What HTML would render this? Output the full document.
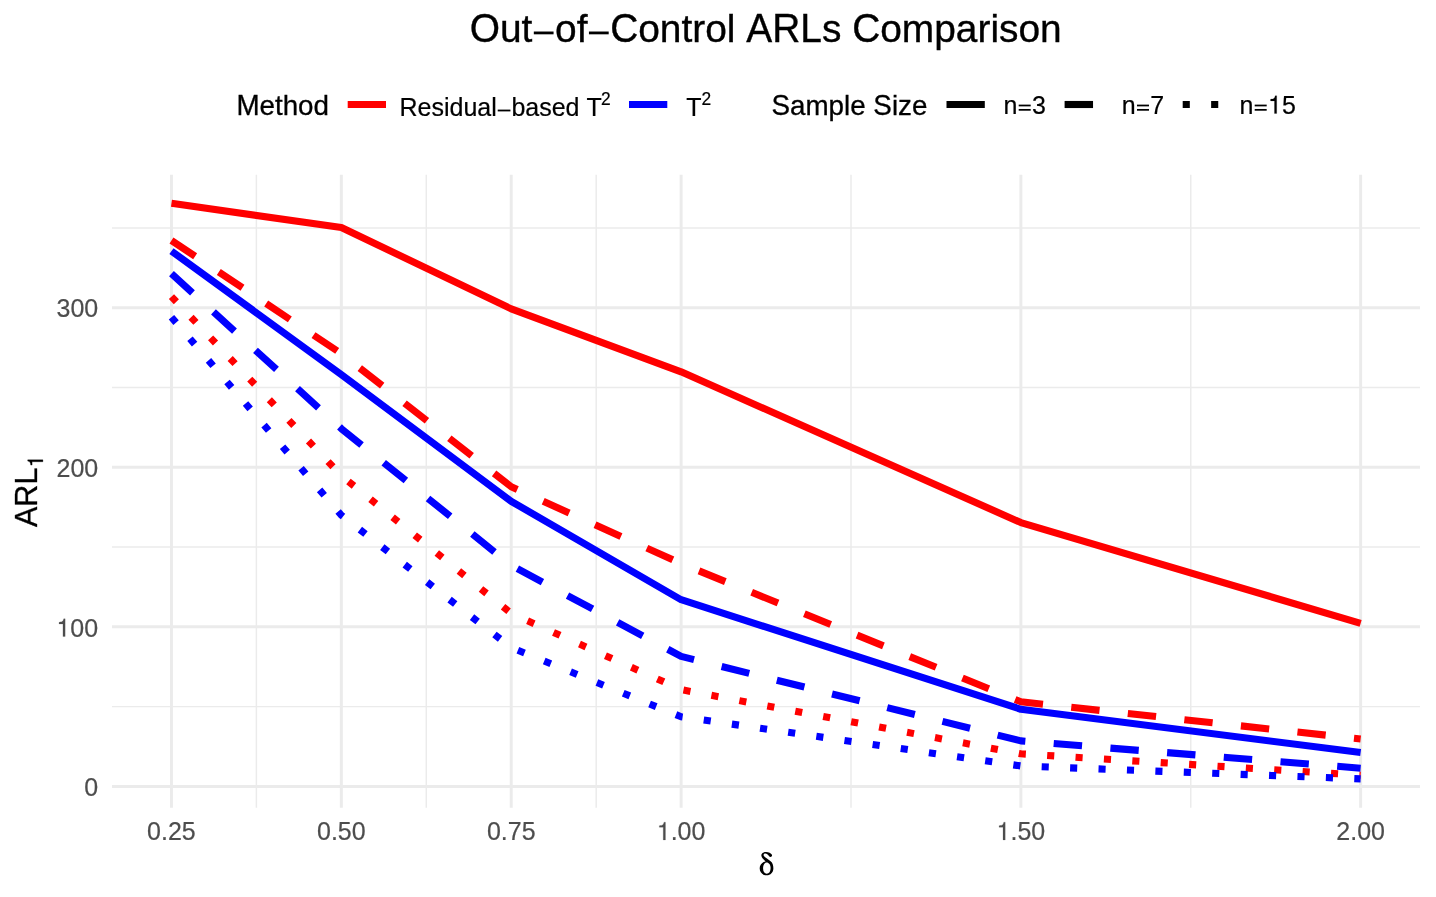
<!DOCTYPE html>
<html><head><meta charset="utf-8"><title>Out-of-Control ARLs Comparison</title>
<style>html,body{margin:0;padding:0;background:#fff;}svg{display:block;will-change:transform;}text{font-family:"Liberation Sans",sans-serif;font-kerning:none;}</style></head><body>
<svg width="1436" height="897" viewBox="0 0 1436 897">
<rect width="1436" height="897" fill="#FFFFFF"/>
<g stroke="#EBEBEB" stroke-width="1.48" fill="none">
<line x1="112.0" x2="1420.0" y1="706.62" y2="706.62"/>
<line x1="112.0" x2="1420.0" y1="547.08" y2="547.08"/>
<line x1="112.0" x2="1420.0" y1="387.52" y2="387.52"/>
<line x1="112.0" x2="1420.0" y1="227.98" y2="227.98"/>
<line y1="174.8" y2="807.7" x1="256.40" x2="256.40"/>
<line y1="174.8" y2="807.7" x1="426.28" x2="426.28"/>
<line y1="174.8" y2="807.7" x1="596.17" x2="596.17"/>
<line y1="174.8" y2="807.7" x1="850.99" x2="850.99"/>
<line y1="174.8" y2="807.7" x1="1190.75" x2="1190.75"/>
</g>
<g stroke="#EBEBEB" stroke-width="2.96" fill="none">
<line x1="112.0" x2="1420.0" y1="786.40" y2="786.40"/>
<line x1="112.0" x2="1420.0" y1="626.85" y2="626.85"/>
<line x1="112.0" x2="1420.0" y1="467.30" y2="467.30"/>
<line x1="112.0" x2="1420.0" y1="307.75" y2="307.75"/>
<line y1="174.8" y2="807.7" x1="171.46" x2="171.46"/>
<line y1="174.8" y2="807.7" x1="341.34" x2="341.34"/>
<line y1="174.8" y2="807.7" x1="511.23" x2="511.23"/>
<line y1="174.8" y2="807.7" x1="681.11" x2="681.11"/>
<line y1="174.8" y2="807.7" x1="1020.87" x2="1020.87"/>
<line y1="174.8" y2="807.7" x1="1360.64" x2="1360.64"/>
</g>
<g fill="none" stroke-width="7.11" stroke-linejoin="round" stroke-linecap="butt">
<polyline points="171.46,203.34 341.34,227.45 511.23,308.90 681.11,371.82 1020.87,522.58 1360.64,623.35" stroke="#FF0000"/>
<polyline points="171.46,240.55 341.34,353.61 511.23,486.80 681.11,563.62 1020.87,701.76 1360.64,738.97" stroke="#FF0000" stroke-dasharray="28.44 28.44"/>
<polyline points="171.46,296.60 341.34,475.62 511.23,613.44 681.11,689.62 1020.87,753.82 1360.64,775.22" stroke="#FF0000" stroke-dasharray="7.11 21.33"/>
<polyline points="171.46,251.09 341.34,374.53 511.23,501.34 681.11,599.71 1020.87,709.26 1360.64,752.54" stroke="#0000FF"/>
<polyline points="171.46,273.60 341.34,428.67 511.23,565.38 681.11,656.40 1020.87,740.89 1360.64,768.19" stroke="#0000FF" stroke-dasharray="28.44 28.44"/>
<polyline points="171.46,317.20 341.34,515.23 511.23,647.62 681.11,716.77 1020.87,765.96 1360.64,778.89" stroke="#0000FF" stroke-dasharray="7.11 21.33"/>
</g>
<line x1="347.7" x2="386" y1="104.5" y2="104.5" stroke="#FF0000" stroke-width="7.11"/>
<line x1="629" x2="667.3" y1="104.5" y2="104.5" stroke="#0000FF" stroke-width="7.11"/>
<line x1="946.5" x2="984.8" y1="104.5" y2="104.5" stroke="#000" stroke-width="7.11"/>
<line x1="1064.6" x2="1102.9" y1="104.5" y2="104.5" stroke="#000" stroke-width="7.11" stroke-dasharray="28.44 28.44"/>
<line x1="1182.7" x2="1221" y1="104.5" y2="104.5" stroke="#000" stroke-width="7.11" stroke-dasharray="7.11 21.33"/>
<path transform="translate(736,840) scale(0.050167)" d="M506 312C500 270 545 238 600 240C650 242 700 265 717 295C725 320 705 340 685 338C665 336 655 320 645 305C630 285 610 268 585 268C560 268 545 285 550 305C555 325 580 345 610 365L690 425C730 455 745 510 745 565C745 650 690 705 610 705C530 705 472 645 472 565C472 495 520 440 590 428C560 400 515 360 506 312ZM610 450C570 450 540 500 540 570C540 635 570 672 612 672C660 672 690 630 690 560C690 495 655 450 610 450Z" fill="#000" fill-rule="evenodd"/>
<g font-size="38.89" fill="#000" stroke="#000" stroke-width="0.35">
<text transform="translate(469.68,42.1) scale(1,1.04)">O</text>
<text transform="translate(499.91,42.1) scale(1,1)">ut</text>
<rect x="533.81" y="31.52" width="19.76" height="2.80" stroke="none"/>
<text transform="translate(555.04,42.1) scale(1,1)">of</text>
<rect x="588.94" y="31.52" width="19.76" height="2.80" stroke="none"/>
<text transform="translate(610.16,42.1) scale(1,1.04)">C</text>
<text transform="translate(638.22,42.1) scale(1,1)">ontrol </text>
<text transform="translate(746.27,42.1) scale(1,1.04)">ARL</text>
<text transform="translate(821.90,42.1) scale(1,1)">s </text>
<text transform="translate(852.13,42.1) scale(1,1.04)">C</text>
<text transform="translate(880.21,42.1) scale(1,1)">omparison</text>
</g>
<g font-size="27.78" fill="#000" stroke="#000" stroke-width="0.3">
<text transform="translate(236.40,114.8) scale(1,1.04)">M</text>
<text transform="translate(259.52,114.8) scale(1,1)">ethod</text>
</g>
<g font-size="25" fill="#000" stroke="#000" stroke-width="0.2">
<text transform="translate(399.50,116.4) scale(1,1.04)">R</text>
<text transform="translate(417.55,116.4) scale(1,1)">esidual</text>
<rect x="497.72" y="109.60" width="12.70" height="1.80" stroke="none"/>
<text transform="translate(511.38,116.4) scale(1,1)">based </text>
<text transform="translate(586.44,116.4) scale(1,1.04)">T</text>
</g>
<g font-size="17.4" fill="#000" stroke="#000" stroke-width="0.2">
<text transform="translate(601.00,105.2) scale(1,1.04)">2</text>
</g>
<g font-size="25" fill="#000" stroke="#000" stroke-width="0.2">
<text transform="translate(686.30,116.4) scale(1,1.04)">T</text>
</g>
<g font-size="17.4" fill="#000" stroke="#000" stroke-width="0.2">
<text transform="translate(701.40,105.2) scale(1,1.04)">2</text>
</g>
<g font-size="27.78" fill="#000" stroke="#000" stroke-width="0.3">
<text transform="translate(771.50,114.8) scale(1,1.04)">S</text>
<text transform="translate(790.02,114.8) scale(1,1)">ample </text>
<text transform="translate(873.34,114.8) scale(1,1.04)">S</text>
<text transform="translate(891.88,114.8) scale(1,1)">ize</text>
</g>
<g font-size="25" fill="#000" stroke="#000" stroke-width="0.2">
<text transform="translate(1003.50,113.5) scale(1,1)">n</text>
<rect x="1018.69" y="108.97" width="12.00" height="1.75" stroke="none"/>
<rect x="1018.69" y="104.62" width="12.00" height="1.75" stroke="none"/>
<text transform="translate(1032.00,113.5) scale(1,1.04)">3</text>
</g>
<g font-size="25" fill="#000" stroke="#000" stroke-width="0.2">
<text transform="translate(1121.80,113.5) scale(1,1)">n</text>
<rect x="1136.99" y="108.97" width="12.00" height="1.75" stroke="none"/>
<rect x="1136.99" y="104.62" width="12.00" height="1.75" stroke="none"/>
<text transform="translate(1150.30,113.5) scale(1,1.04)">7</text>
</g>
<g font-size="25" fill="#000" stroke="#000" stroke-width="0.2">
<text transform="translate(1239.50,113.5) scale(1,1)">n</text>
<rect x="1254.69" y="108.97" width="12.00" height="1.75" stroke="none"/>
<rect x="1254.69" y="104.62" width="12.00" height="1.75" stroke="none"/>
<path transform="translate(1268.00,113.5) scale(0.02500,-0.02500)" d="M259 505V0H347V709H289C258 600 238 585 102 568V505Z" stroke-width="8.0"/>
<text transform="translate(1281.91,113.5) scale(1,1.04)">5</text>
</g>
<g font-size="25" fill="#4D4D4D" stroke="#4D4D4D" stroke-width="0.2">
<text transform="translate(147.12,839.9) scale(1,1.04)">0</text>
<text transform="translate(161.01,839.9) scale(1,1)">.</text>
<text transform="translate(167.97,839.9) scale(1,1.04)">25</text>
</g>
<g font-size="25" fill="#4D4D4D" stroke="#4D4D4D" stroke-width="0.2">
<text transform="translate(317.00,839.9) scale(1,1.04)">0</text>
<text transform="translate(330.89,839.9) scale(1,1)">.</text>
<text transform="translate(337.85,839.9) scale(1,1.04)">50</text>
</g>
<g font-size="25" fill="#4D4D4D" stroke="#4D4D4D" stroke-width="0.2">
<text transform="translate(486.89,839.9) scale(1,1.04)">0</text>
<text transform="translate(500.78,839.9) scale(1,1)">.</text>
<text transform="translate(507.74,839.9) scale(1,1.04)">75</text>
</g>
<g font-size="25" fill="#4D4D4D" stroke="#4D4D4D" stroke-width="0.2">
<path transform="translate(656.77,839.9) scale(0.02500,-0.02500)" d="M259 505V0H347V709H289C258 600 238 585 102 568V505Z" stroke-width="8.0"/>
<text transform="translate(670.66,839.9) scale(1,1)">.</text>
<text transform="translate(677.62,839.9) scale(1,1.04)">00</text>
</g>
<g font-size="25" fill="#4D4D4D" stroke="#4D4D4D" stroke-width="0.2">
<path transform="translate(996.53,839.9) scale(0.02500,-0.02500)" d="M259 505V0H347V709H289C258 600 238 585 102 568V505Z" stroke-width="8.0"/>
<text transform="translate(1010.42,839.9) scale(1,1)">.</text>
<text transform="translate(1017.38,839.9) scale(1,1.04)">50</text>
</g>
<g font-size="25" fill="#4D4D4D" stroke="#4D4D4D" stroke-width="0.2">
<text transform="translate(1336.30,839.9) scale(1,1.04)">2</text>
<text transform="translate(1350.19,839.9) scale(1,1)">.</text>
<text transform="translate(1357.15,839.9) scale(1,1.04)">00</text>
</g>
<g font-size="25" fill="#4D4D4D" stroke="#4D4D4D" stroke-width="0.2">
<text transform="translate(84.29,796.1) scale(1,1.04)">0</text>
</g>
<g font-size="25" fill="#4D4D4D" stroke="#4D4D4D" stroke-width="0.2">
<path transform="translate(56.48,636.55) scale(0.02500,-0.02500)" d="M259 505V0H347V709H289C258 600 238 585 102 568V505Z" stroke-width="8.0"/>
<text transform="translate(70.37,636.55) scale(1,1.04)">00</text>
</g>
<g font-size="25" fill="#4D4D4D" stroke="#4D4D4D" stroke-width="0.2">
<text transform="translate(56.48,477.0) scale(1,1.04)">200</text>
</g>
<g font-size="25" fill="#4D4D4D" stroke="#4D4D4D" stroke-width="0.2">
<text transform="translate(56.48,317.45) scale(1,1.04)">300</text>
</g>
<g transform="translate(36.9,527) rotate(-90)" font-size="30.56" fill="#000" stroke="#000" stroke-width="0.3">
<text transform="translate(0.00,0) scale(1,1.04)">ARL</text>
</g>
<path transform="translate(42.9,467.3) rotate(-90) scale(0.02140,-0.02140)" d="M259 505V0H347V709H289C258 600 238 585 102 568V505Z" fill="#000" stroke="#000" stroke-width="14.0"/>
</svg></body></html>
